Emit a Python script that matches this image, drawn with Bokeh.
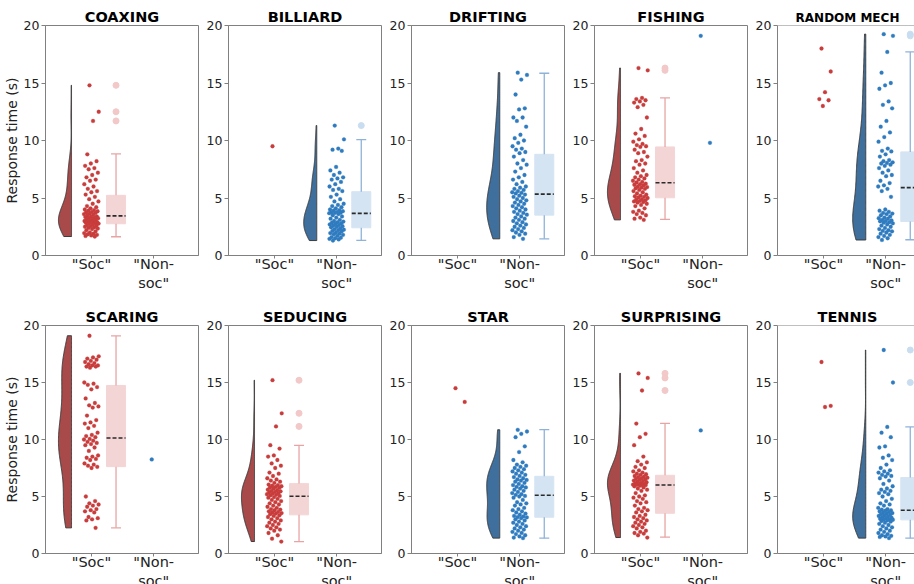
import numpy as np
from bokeh.plotting import figure
from bokeh.layouts import row, column
from bokeh.models import Range1d, FixedTicker, Span
from bokeh.embed import file_html
from bokeh.resources import INLINE

# ---------------- data (response times in seconds) ----------------
panel_titles = ["COAXING", "BILLIARD", "DRIFTING", "FISHING", "RANDOM MECH",
                "SCARING", "SEDUCING", "STAR", "SURPRISING", "TENNIS"]
group_labels = ['"Soc"', '"Non-\nsoc"']
# which group carries the cloud + box (0 = "Soc", 1 = "Non-soc")
main_group = [0, 1, 1, 0, 1, 0, 0, 1, 0, 1]

coaxing_soc = [14.8, 12.5, 11.7, 8.8, 8.2, 8.0, 7.8, 7.6, 7.5, 7.2, 7.0, 6.8, 6.6, 6.5, 6.2, 6.0, 5.8, 5.6, 5.5, 5.3,
               5.1, 4.9, 4.7, 4.5, 4.3, 4.2, 4.1, 4.0, 3.95, 3.9, 3.85, 3.8, 3.75, 3.7, 3.65, 3.6, 3.55, 3.5,
               3.4, 3.38, 3.35, 3.3, 3.28, 3.25, 3.2, 3.15, 3.1, 3.05, 3.0, 2.98, 2.95, 2.9, 2.88, 2.85, 2.82, 2.8, 2.78,
               2.7, 2.65, 2.6, 2.55, 2.5, 2.45, 2.4, 2.35, 2.3, 2.2, 2.1, 2.0, 1.95, 1.9, 1.85, 1.8, 1.75, 1.7, 1.65]
coaxing_nonsoc = []

billiard_soc = [9.5]
billiard_nonsoc = [11.3, 10.1, 9.3, 9.2, 9.1, 7.7, 7.4, 7.2, 7.0, 6.8, 6.7, 6.6, 6.4, 6.2, 6.0, 5.8, 5.7, 5.6,
                   5.3, 5.1, 4.9, 4.7, 4.5, 4.4, 4.3, 4.2, 4.1, 4.0, 3.95, 3.9, 3.85, 3.8, 3.75, 3.72, 3.7, 3.68,
                   3.6, 3.5, 3.4, 3.3, 3.2, 3.1, 3.0, 2.95, 2.9, 2.85, 2.8, 2.75, 2.7, 2.65, 2.6, 2.55, 2.5, 2.45,
                   2.35, 2.3, 2.25, 2.2, 2.15, 2.1, 2.0, 1.95, 1.9, 1.85, 1.8, 1.7, 1.6, 1.55, 1.5, 1.45, 1.4, 1.3]

drifting_soc = []
drifting_nonsoc = [15.9, 15.7, 15.3, 14.0, 12.8, 12.7, 12.0, 12.0, 11.7, 11.2, 10.5, 10.2, 10.0, 9.8, 9.5, 9.3, 9.2, 9.0, 8.9,
                   8.6, 8.3, 8.0, 7.9, 7.6, 7.3, 7.0, 6.8, 6.6, 6.4, 6.2, 6.0, 5.9, 5.8, 5.7, 5.6, 5.5, 5.45, 5.4,
                   5.3, 5.2, 5.1, 5.0, 4.9, 4.8, 4.7, 4.6, 4.5, 4.4, 4.3, 4.2, 4.1, 4.0, 3.9, 3.8, 3.7, 3.6, 3.55,
                   3.4, 3.3, 3.2, 3.1, 3.0, 2.9, 2.8, 2.7, 2.6, 2.5, 2.4, 2.3, 2.2, 2.1, 2.0, 1.9, 1.8, 1.6, 1.45]

fishing_soc = [16.3, 16.1, 13.7, 13.6, 13.5, 13.4, 13.3, 13.1, 12.9, 12.0, 11.0, 10.6, 10.4, 10.1, 9.9, 9.7, 9.6, 9.5, 9.45,
               9.2, 9.0, 8.9, 8.6, 8.3, 8.2, 8.0, 7.9, 7.6, 7.4, 7.2, 7.0, 6.9, 6.8, 6.7, 6.6, 6.5, 6.4, 6.35,
               6.25, 6.2, 6.15, 6.1, 6.0, 5.95, 5.9, 5.85, 5.8, 5.7, 5.6, 5.5, 5.4, 5.3, 5.2, 5.15, 5.1, 5.05, 5.0,
               4.9, 4.85, 4.8, 4.75, 4.7, 4.65, 4.6, 4.5, 4.4, 4.3, 4.1, 3.9, 3.8, 3.7, 3.6, 3.5, 3.3, 3.2, 3.1]
fishing_nonsoc = [19.1, 9.8]

randmech_soc = [18.0, 16.0, 14.2, 13.6, 13.5, 13.0]
randmech_nonsoc = [19.25, 19.1, 17.7, 15.9, 15.0, 14.8, 14.5, 13.4, 13.1, 12.8, 11.7, 11.2, 10.7, 10.3, 9.9, 9.3, 9.1, 9.05,
                   8.8, 8.6, 8.3, 8.2, 8.1, 8.05, 8.0, 7.9, 7.8, 7.6, 7.4, 7.2, 7.0, 6.9, 6.5, 6.3, 6.1, 6.0,
                   5.8, 5.6, 5.1, 4.0, 3.9, 3.8, 3.7, 3.65, 3.6, 3.5, 3.4, 3.3, 3.25, 3.2, 3.1, 3.05, 3.0, 2.98,
                   2.9, 2.85, 2.8, 2.7, 2.6, 2.5, 2.4, 2.3, 2.2, 2.15, 2.1, 2.0, 1.9, 1.8, 1.7, 1.6, 1.5, 1.35]

scaring_soc = [19.1, 17.3, 17.2, 17.1, 17.0, 16.9, 16.8, 16.7, 16.6, 16.5, 16.5, 16.4, 16.4, 16.3, 15.0, 14.9, 14.8,
               14.6, 14.4, 13.6, 13.2, 13.0, 12.9, 12.8, 12.1, 11.7, 11.5, 11.4, 11.2, 11.0, 10.6, 10.4, 10.3, 10.2,
               10.05, 10.0, 9.9, 9.8, 9.7, 9.6, 9.5, 9.3, 9.0, 8.6, 8.5, 8.4, 8.3, 8.2, 7.9, 7.8, 7.7,
               7.6, 7.5, 5.0, 4.6, 4.4, 4.3, 4.2, 4.1, 3.9, 3.8, 3.7, 3.6, 3.2, 3.1, 3.0, 2.9, 2.25]
scaring_nonsoc = [8.25]

seducing_soc = [15.2, 12.3, 11.15, 9.5, 9.2, 8.6, 8.5, 8.2, 7.9, 7.7, 7.5, 7.1, 7.0, 6.8, 6.6, 6.5, 6.4, 6.3, 6.2,
                6.05, 6.0, 5.95, 5.9, 5.85, 5.8, 5.75, 5.7, 5.6, 5.55, 5.5, 5.45, 5.4, 5.35, 5.3, 5.25, 5.2, 5.15, 5.1, 5.05,
                4.95, 4.9, 4.8, 4.7, 4.6, 4.5, 4.4, 4.3, 4.2, 4.1, 4.0, 3.9, 3.85, 3.8, 3.7, 3.65, 3.6, 3.55, 3.5, 3.45,
                3.35, 3.3, 3.2, 3.1, 3.0, 2.9, 2.8, 2.7, 2.6, 2.5, 2.4, 2.3, 2.2, 2.1, 2.0, 1.8, 1.6, 1.3, 1.05]
seducing_nonsoc = []

star_soc = [14.5, 13.3]
star_nonsoc = [10.85, 10.7, 10.5, 10.2, 9.4, 8.9, 8.2, 8.0, 7.8, 7.7, 7.6, 7.5, 7.4, 7.3, 7.2, 7.1, 7.0, 6.9, 6.8,
               6.7, 6.6, 6.5, 6.45, 6.4, 6.3, 6.2, 6.1, 6.0, 5.9, 5.85, 5.8, 5.7, 5.6, 5.5, 5.4, 5.3, 5.2, 5.15,
               5.05, 5.0, 4.9, 4.7, 4.5, 4.4, 4.3, 4.2, 4.0, 3.9, 3.8, 3.7, 3.6, 3.5, 3.4, 3.3, 3.25, 3.2, 3.17,
               3.1, 3.0, 2.9, 2.8, 2.7, 2.6, 2.5, 2.4, 2.3, 2.2, 2.1, 2.0, 1.9, 1.8, 1.7, 1.6, 1.5, 1.4, 1.35]

surprising_soc = [15.8, 15.4, 14.3, 11.4, 10.5, 10.2, 9.5, 8.5, 8.1, 8.0, 7.8, 7.6, 7.5, 7.3, 7.2, 7.1, 7.0, 6.95, 6.9,
                  6.8, 6.75, 6.7, 6.65, 6.6, 6.55, 6.5, 6.45, 6.4, 6.35, 6.3, 6.25, 6.2, 6.15, 6.1, 6.08, 6.05, 6.03, 6.02, 6.01,
                  5.95, 5.9, 5.8, 5.7, 5.6, 5.5, 5.3, 5.1, 5.0, 4.9, 4.8, 4.6, 4.5, 4.4, 4.2, 4.0, 3.9, 3.8, 3.7, 3.6,
                  3.4, 3.3, 3.2, 3.1, 3.0, 2.9, 2.8, 2.7, 2.6, 2.5, 2.4, 2.3, 2.2, 2.0, 1.9, 1.8, 1.75, 1.6, 1.4]
surprising_nonsoc = [10.8]

tennis_soc = [16.8, 12.95, 12.85]
tennis_nonsoc = [17.85, 15.0, 11.1, 10.6, 10.2, 9.4, 9.3, 8.6, 8.4, 8.2, 7.8, 7.5, 7.3, 7.2, 7.1, 7.0, 6.9, 6.8, 6.75,
                 6.6, 6.4, 6.1, 5.9, 5.7, 5.6, 5.5, 5.4, 5.3, 5.2, 5.0, 4.8, 4.6, 4.4, 4.3, 4.2, 4.0, 3.9, 3.85,
                 3.78, 3.75, 3.7, 3.65, 3.6, 3.55, 3.5, 3.45, 3.4, 3.35, 3.3, 3.25, 3.2, 3.15, 3.1, 3.05, 3.0, 2.98, 2.96,
                 2.9, 2.85, 2.8, 2.7, 2.6, 2.5, 2.4, 2.3, 2.2, 2.1, 2.0, 1.9, 1.8, 1.7, 1.6, 1.55, 1.5, 1.45, 1.35]

soc_values = [coaxing_soc, billiard_soc, drifting_soc, fishing_soc, randmech_soc,
              scaring_soc, seducing_soc, star_soc, surprising_soc, tennis_soc]
nonsoc_values = [coaxing_nonsoc, billiard_nonsoc, drifting_nonsoc, fishing_nonsoc, randmech_nonsoc,
                 scaring_nonsoc, seducing_nonsoc, star_nonsoc, surprising_nonsoc, tennis_nonsoc]

# box statistics of the main group
box_whisker_low = [1.63, 1.31, 1.45, 3.14, 1.37, 2.25, 1.05, 1.34, 1.43, 1.34]
box_q1 = [2.76, 2.41, 3.51, 5.02, 2.96, 7.62, 3.39, 3.18, 3.53, 2.95]
box_median = [3.45, 3.66, 5.34, 6.33, 5.90, 10.13, 5.02, 5.11, 6.01, 3.80]
box_q3 = [5.23, 5.55, 8.80, 9.44, 9.01, 14.74, 6.13, 6.77, 6.86, 6.66]
box_whisker_high = [8.83, 10.08, 15.85, 13.70, 17.70, 19.09, 9.49, 10.86, 11.42, 11.10]

y_ticks = [0, 5, 10, 15, 20]

# ---------------- style ----------------
FONT = "DejaVu Sans"
GREY = "#808080"
point_col = ["#c93c3c", "#2f7bbf"]
violin_col = ["#a84a4a", "#3f6f9c"]
box_fill = ["#f4d5d5", "#d5e4f3"]
whisk_col = ["#e8a4a4", "#8fb2d9"]
flier_col = ["#f2c8c8", "#c9ddf0"]

X_START = -0.738
X_END = 1.72
PX_PER_UNIT = 153 / (X_END - X_START)


def jitter(n):
    k = np.arange(n)
    return ((k * 0.6180339887 + 0.37) % 1.0 - 0.5) * 0.24


def make_panel(i):
    r, c = divmod(i, 5)
    last = c == 4
    fw = 140 if last else 153          # the last column is cut at the window edge
    x_end = X_START + fw / PX_PER_UNIT
    p = figure(frame_width=fw, frame_height=230 if r == 0 else 228,
               x_range=Range1d(X_START, x_end), y_range=Range1d(0, 20),
               output_backend="svg", toolbar_location=None,
               min_border_left=38 if c == 0 else 24, min_border_right=0 if last else 5,
               min_border_top=25 if r == 0 else 26, min_border_bottom=44 if r == 0 else 8,
               background_fill_color="white", border_fill_color="white")
    p.title.text = panel_titles[i]
    p.title.align = "center"
    p.title.text_font = FONT
    p.title.text_font_style = "bold"
    p.title.text_font_size = "12px" if panel_titles[i] == "RANDOM MECH" else "14.5px"
    p.title.text_color = "black"
    p.title.standoff = 1
    if last:
        p.title.offset = 6
    p.xgrid.visible = False
    p.ygrid.visible = False
    if last:
        p.outline_line_color = None
        p.add_layout(Span(location=20, dimension="width", line_color=GREY, line_width=1))
    else:
        p.outline_line_color = GREY
        p.outline_line_width = 1

    for ax in (p.xaxis[0], p.yaxis[0]):
        ax.axis_line_color = GREY
        ax.major_tick_line_color = GREY
        ax.minor_tick_line_color = None
        ax.major_tick_in = 0
        ax.major_tick_out = 4
        ax.major_label_text_font = FONT
        ax.major_label_text_color = "#222222"
        ax.major_label_standoff = 2
    p.xaxis.major_tick_out = 3
    p.xaxis.major_label_standoff = -3
    p.yaxis.ticker = FixedTicker(ticks=y_ticks)
    p.yaxis.major_label_text_font_size = "12.5px"
    p.xaxis.ticker = FixedTicker(ticks=[0, 1])
    p.xaxis.major_label_overrides = {0: group_labels[0], 1: group_labels[1]}
    p.xaxis.major_label_text_font_size = "14.5px"
    if c == 0:
        p.yaxis.axis_label = "Response time (s)"
        p.yaxis.axis_label_text_font = FONT
        p.yaxis.axis_label_text_font_style = "normal"
        p.yaxis.axis_label_text_font_size = "14px"
        p.yaxis.axis_label_text_color = "#222222"
        p.yaxis.axis_label_standoff = 1

    groups = [soc_values[i], nonsoc_values[i]]
    m = main_group[i]
    vals = np.array(groups[m], dtype=float)

    # half-violin (cloud)
    lo, hi = vals.min(), vals.max()
    yy = np.linspace(lo, hi, 240)
    bw = vals.std(ddof=1) * len(vals) ** (-0.2)
    dens = np.exp(-0.5 * ((yy[:, None] - vals[None, :]) / bw) ** 2).sum(axis=1)
    w = dens / dens.max() * 0.21
    flat = m - 0.32
    xs = np.concatenate([flat - w, np.full(len(yy), flat)[::-1]])
    ys = np.concatenate([yy, yy[::-1]])
    p.patch(xs, ys, fill_color=violin_col[m], line_color="#3a3a3a", line_width=1)

    # box plot
    bc = m + 0.395
    hw = 0.153
    p.quad(left=[bc - hw], right=[bc + hw], bottom=[box_q1[i]], top=[box_q3[i]],
           fill_color=box_fill[m], line_color=box_fill[m], line_width=1)
    p.segment(x0=[bc, bc], y0=[box_q3[i], box_q1[i]], x1=[bc, bc],
              y1=[box_whisker_high[i], box_whisker_low[i]], line_color=whisk_col[m], line_width=1.3)
    p.segment(x0=[bc - 0.08, bc - 0.08], y0=[box_whisker_high[i], box_whisker_low[i]],
              x1=[bc + 0.08, bc + 0.08], y1=[box_whisker_high[i], box_whisker_low[i]],
              line_color=whisk_col[m], line_width=1.3)
    p.segment(x0=[bc - hw], y0=[box_median[i]], x1=[bc + hw], y1=[box_median[i]],
              line_color="#2a2a2a", line_width=1.6, line_dash="4 2")
    fl = vals[(vals > box_whisker_high[i] + 0.15) | (vals < box_whisker_low[i] - 0.15)]
    if len(fl):
        p.scatter(np.full(len(fl), bc), fl, size=6, fill_color=flier_col[m],
                  line_color=flier_col[m])

    # rain (jittered points)
    for g in (0, 1):
        v = np.array(groups[g], dtype=float)
        if len(v) == 0:
            continue
        p.scatter(g + jitter(len(v)), v, size=3.8, fill_color=point_col[g],
                  line_color=point_col[g], line_width=0.3)
    return p


figs = [make_panel(i) for i in range(10)]
layout = column(row(*figs[:5], spacing=0), row(*figs[5:], spacing=0), spacing=0)

open("out.html", "w").write(file_html(layout, INLINE))
